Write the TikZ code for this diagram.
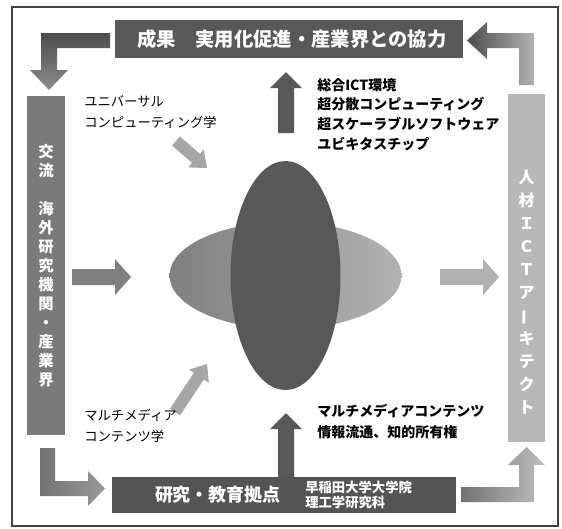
\documentclass[tikz,border=0pt]{standalone}
\usepackage{fontspec}
\setmainfont{Noto Sans CJK JP}
\usetikzlibrary{calc}
\definecolor{dk}{HTML}{585858}
\definecolor{mid}{HTML}{7A7A7A}
\definecolor{lt}{HTML}{B8B8B8}
\newcommand\blkarrow[6]{%
  \coordinate (bkb) at ($(#2)!#6!(#1)$);
  \fill[#3] ($(#1)!#4!90:(#2)$) -- ($(bkb)!#4!90:(#2)$) -- ($(bkb)!#5!90:(#2)$) -- (#2)
    -- ($(bkb)!#5!-90:(#2)$) -- ($(bkb)!#4!-90:(#2)$) -- ($(#1)!#4!-90:(#2)$) -- cycle;}
\begin{document}
\begin{tikzpicture}[x=0.75pt,y=-0.75pt,
  box/.style={fill=#1, inner sep=0pt, outer sep=0pt},
  wtext/.style={text=white, inner sep=0pt, font=\bfseries\fontsize{#1}{#1}\selectfont},
  vtext/.style={text=white, inner sep=0pt, align=center},
  lab/.style={inner sep=0pt, anchor=north west, align=left, text=black}]
\useasboundingbox (0,0) rectangle (562,529);
\fill[white] (0,0) rectangle (562,529);
% frame
\draw[line width=0.8pt, draw=black!75] (12,7) rectangle (558,526);

% top box
\node[box=dk, minimum width=261pt, minimum height=28.5pt] (res) at (289,39) {};
\node[wtext=14.5] (restext) at (292,39) {成果　実用化促進・産業界との協力};

% columns
\node[box=mid, minimum width=28.5pt, minimum height=254.25pt] (lcol) at (46,265.5) {};
\node[vtext, font=\bfseries\fontsize{11.5}{14.25}\selectfont] (ltext) at (46,266)
  {交\\流\\　\\海\\外\\研\\究\\機\\関\\・\\産\\業\\界};
\node[box=lt, minimum width=27.75pt, minimum height=261pt] (rcol) at (526.5,268) {};
\node[vtext, font=\bfseries\fontsize{12}{17.25}\selectfont] (rtext) at (526.5,292)
  {人\\材\\Ｉ\\Ｃ\\Ｔ\\ア\\\rotatebox[origin=c]{90}{ー}\\キ\\テ\\ク\\ト};

% bottom box
\node[box=dk!95!black, minimum width=258pt, minimum height=27pt] (res2) at (284,495) {};
\node[wtext=13.5] (bt1) at (218,495) {研究・教育拠点};
\node[vtext, align=left, anchor=west, font=\bfseries\fontsize{10}{11.5}\selectfont] (bt2) at (305,495)
  {早稲田大学大学院\\理工学研究科};

% ellipses
\shade[left color=black!50, right color=black!30] (285.5,275.5) ellipse [x radius=116, y radius=53.5];
\fill[dk] (285.5,275.5) ellipse [x radius=55, y radius=114.5];
\coordinate (ctr) at (285.5,275.5);

% elbow arrows
\shade[top color=black!70, bottom color=black!45]
  (110,33) -- (41,33) -- (41,70) -- (30,70) -- (49,90) -- (68,70) -- (57,70) -- (57,48) -- (110,48) -- cycle;
\shade[left color=black!70, right color=black!30]
  (534,85) -- (534,33) -- (487,33) -- (487,22) -- (467,40.5) -- (487,59) -- (487,48) -- (519,48) -- (519,85) -- cycle;
\shade[left color=black!55, right color=black!40]
  (40,448) -- (55,448) -- (55,481) -- (88,481) -- (88,471) -- (105,488.5) -- (88,506) -- (88,496) -- (40,496) -- cycle;
\shade[left color=black!55, right color=black!25]
  (461,487) -- (519,487) -- (519,465) -- (508,465) -- (526.5,447) -- (545,465) -- (534,465) -- (534,502) -- (461,502) -- cycle;

% straight arrows
\coordinate (a1t) at (286,133); \coordinate (a1h) at (286,72);
\blkarrow{a1t}{a1h}{dk}{6pt}{12pt}{12pt}
\coordinate (a2t) at (286,477); \coordinate (a2h) at (286,413);
\blkarrow{a2t}{a2h}{dk}{6pt}{12pt}{12pt}
\coordinate (a3t) at (72,277); \coordinate (a3h) at (131,277);
\blkarrow{a3t}{a3h}{black!50}{6pt}{13.5pt}{12pt}
\coordinate (a4t) at (440,277); \coordinate (a4h) at (499,277);
\blkarrow{a4t}{a4h}{black!30}{6pt}{13.5pt}{12pt}
\coordinate (a5t) at (176,141); \coordinate (a5h) at (207,168);
\blkarrow{a5t}{a5h}{black!35}{4.5pt}{9pt}{11pt}
\coordinate (a6t) at (175,412); \coordinate (a6h) at (207,364);
\blkarrow{a6t}{a6h}{black!35}{4.5pt}{9pt}{11pt}

% labels
\node[lab, font=\fontsize{10}{15.75}\selectfont] (l1) at (84,95) {ユニバーサル\\コンピューティング学};
\node[lab, font=\bfseries\fontsize{10.5}{14.8}\selectfont] (l2) at (317,78)
  {総合ICT環境\\超分散コンピューティング\\超スケーラブルソフトウェア\\ユビキタスチップ};
\node[lab, font=\fontsize{10}{15.75}\selectfont] (l3) at (84,409) {マルチメディア\\コンテンツ学};
\node[lab, font=\bfseries\fontsize{10.5}{15.75}\selectfont] (l4) at (317,404) {マルチメディアコンテンツ\\情報流通、知的所有権};
\end{tikzpicture}
\end{document}
